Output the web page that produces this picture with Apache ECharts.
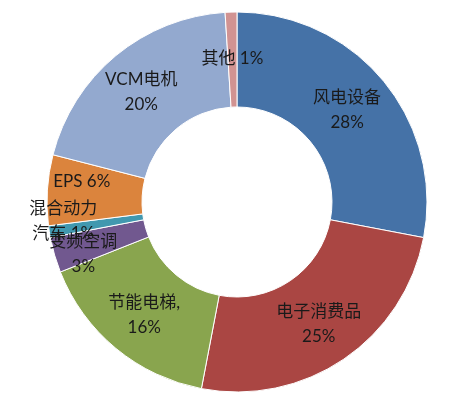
<!DOCTYPE html>
<html><head><meta charset="utf-8">
<script src="https://cdn.jsdelivr.net/npm/echarts@6/dist/echarts.min.js"></script>
<style>html,body{margin:0;padding:0;background:#fff}#c{width:471px;height:398px}</style>
</head><body><div id="c"></div>
<script>
const categories = ['风电设备','电子消费品','节能电梯','变频空调','混合动力汽车','EPS','VCM电机','其他'];
const values = [28, 25, 16, 3, 1, 6, 20, 1];
const labelTexts = ['风电设备\n28%','电子消费品\n25%','节能电梯,\n16%','变频空调\n3%','混合动力\n汽车 1%','EPS 6%','VCM电机\n20%','其他 1%'];
const colors = ['#4572A7','#AA4643','#89A54E','#71588F','#4198AF','#DB843D','#93A9CF','#D19392'];
const labelShift = [[-2,1],[0,2],[0,1],[-14,11],[-30,-4],[-10,-11],[-3,2],[0,2]];

const chart = echarts.init(document.getElementById('c'));
chart.setOption({
  backgroundColor: '#fff',
  animation: false,
  series: [{
    type: 'pie',
    center: [237, 202],
    radius: [95, 190],
    startAngle: 90,
    clockwise: true,
    avoidLabelOverlap: false,
    itemStyle: { borderColor: '#fff', borderWidth: 1 },
    label: {
      show: true,
      position: 'inside',
      color: '#1a1a1a',
      fontSize: 17,
      lineHeight: 25,
      fontFamily: 'Lato, "Noto Sans CJK SC", sans-serif',
      formatter: p => labelTexts[p.dataIndex]
    },
    labelLine: { show: false },
    labelLayout: p => ({ dx: labelShift[p.dataIndex][0], dy: labelShift[p.dataIndex][1], hideOverlap: false }),
    data: categories.map((n, i) => ({ name: n, value: values[i], itemStyle: { color: colors[i] } }))
  }]
});
</script></body></html>
